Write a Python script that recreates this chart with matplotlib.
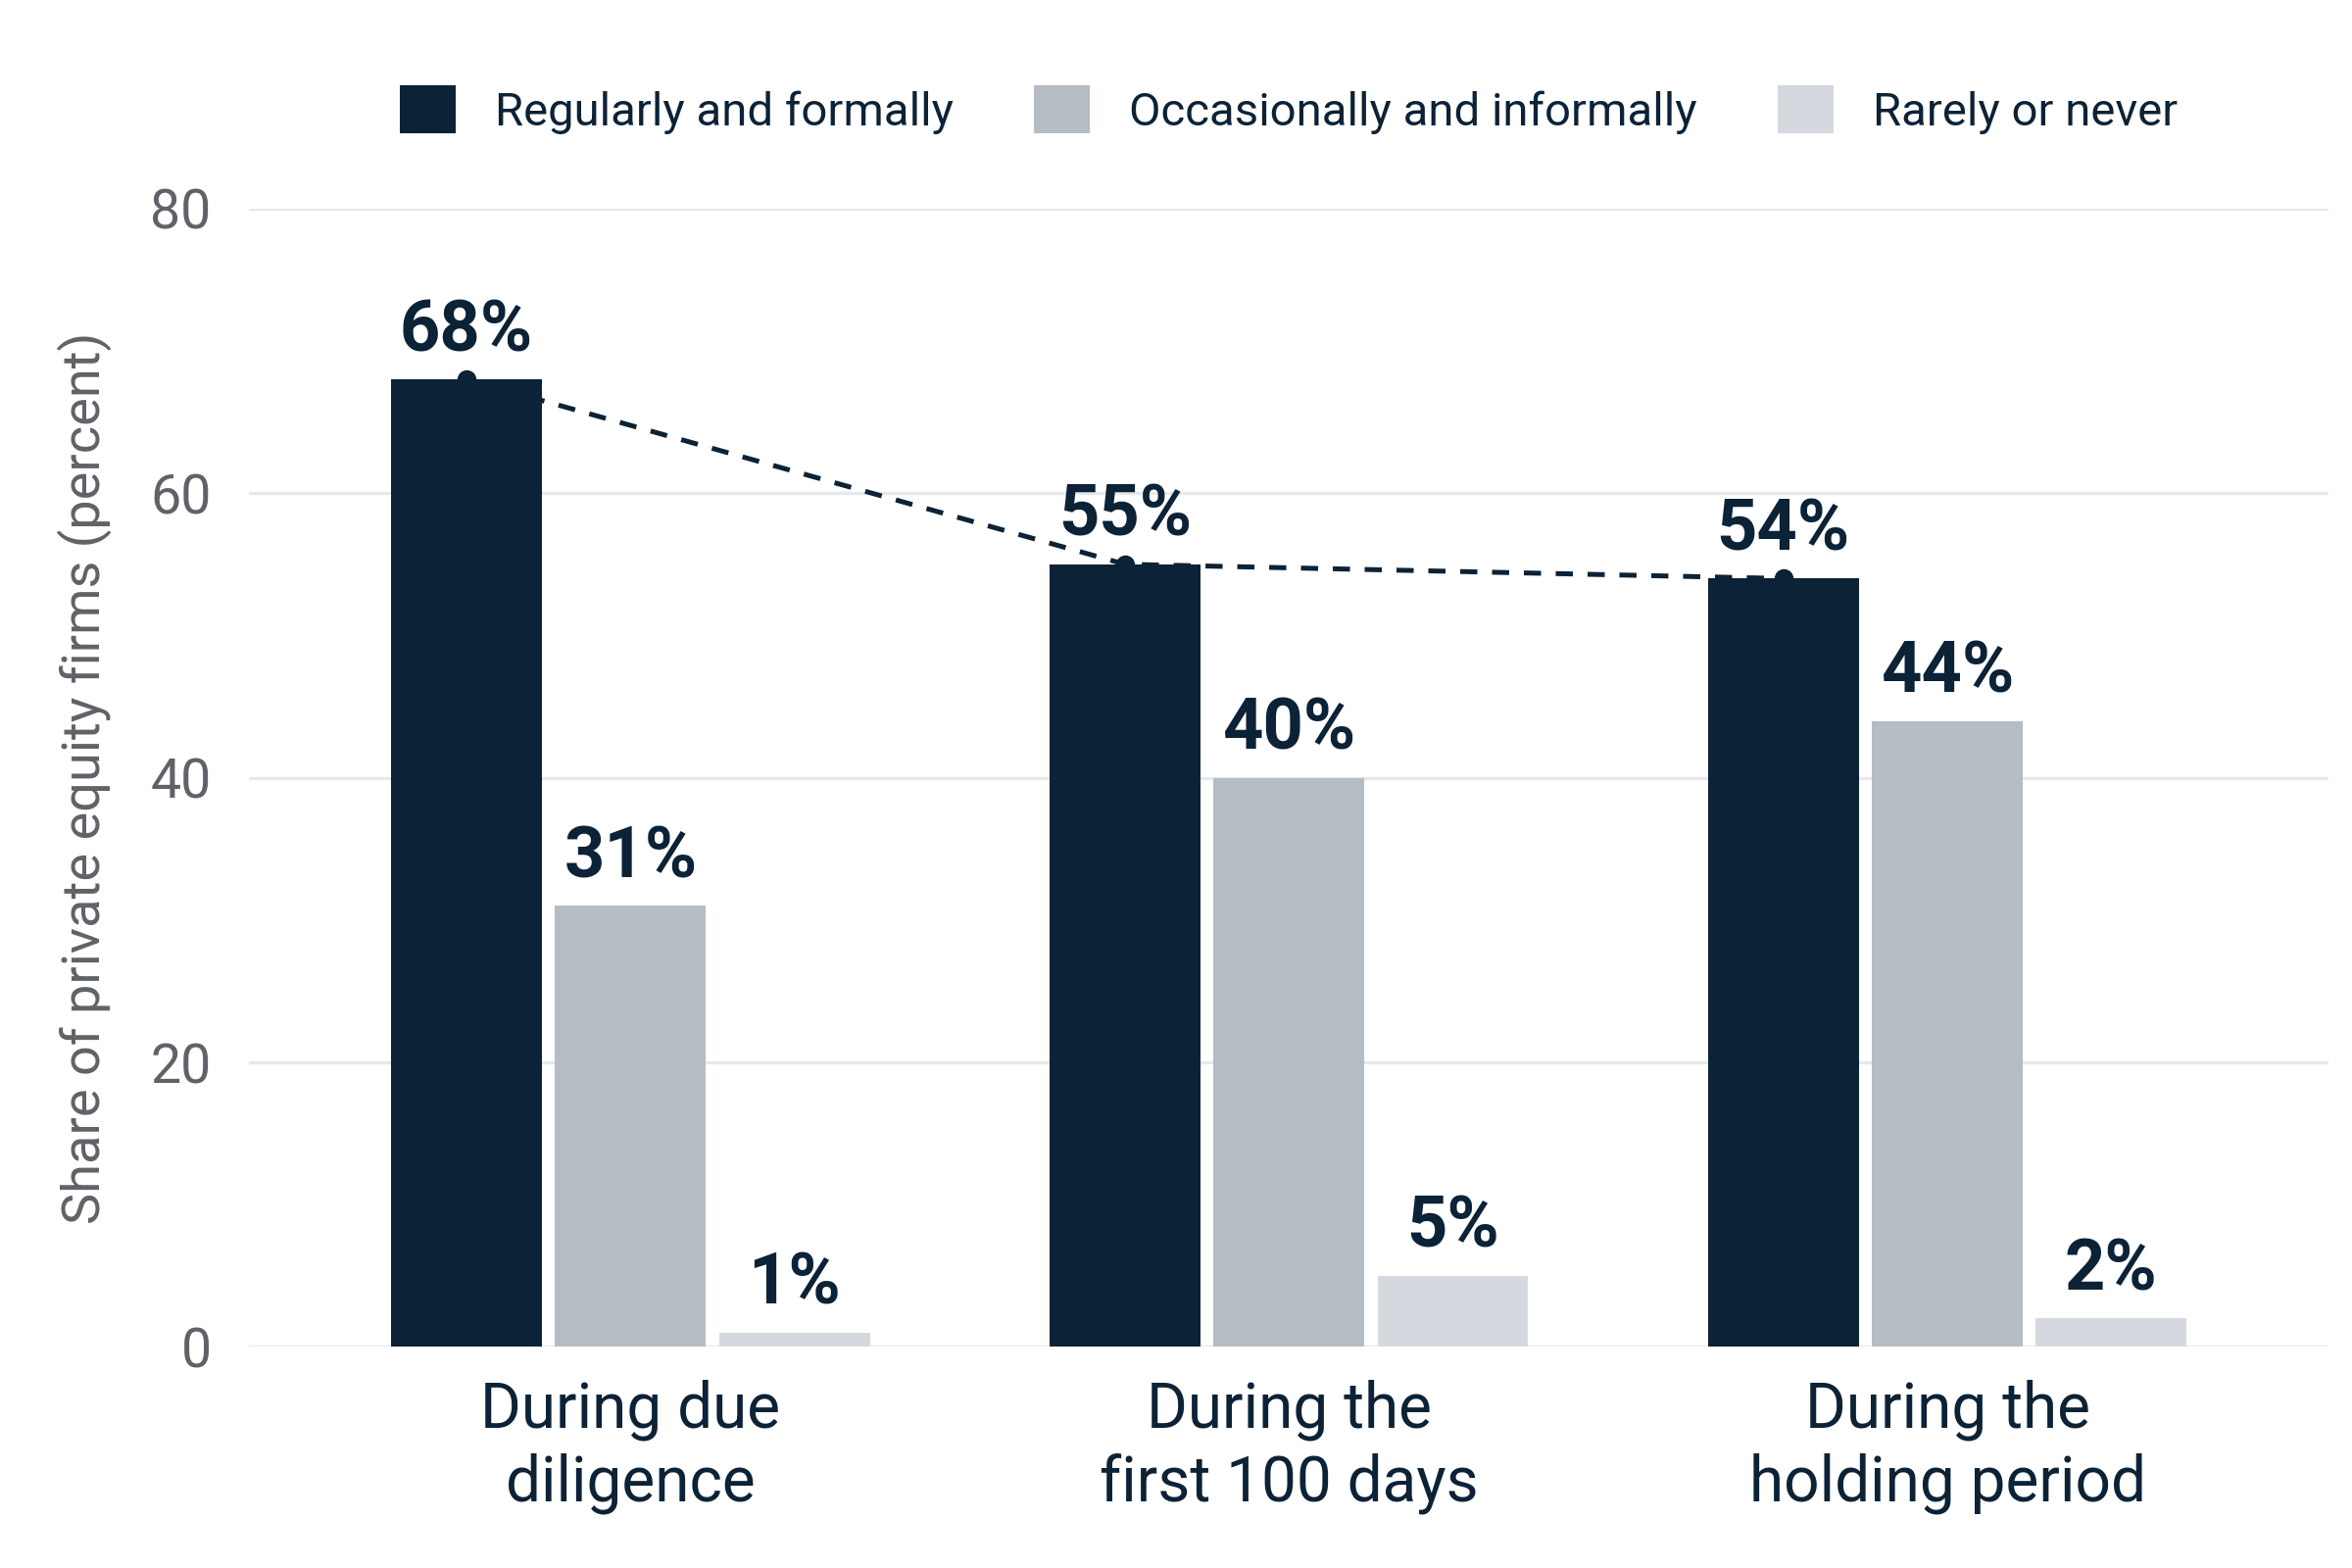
import matplotlib
matplotlib.use("Agg")
import matplotlib.pyplot as plt
import numpy as np
from matplotlib.patches import Patch

categories = ["During due\ndiligence", "During the\nfirst 100 days", "During the\nholding period"]
series_names = ["Regularly and formally", "Occasionally and informally", "Rarely or never"]
regularly = [68, 55, 54]
occasionally = [31, 40, 44]
rarely = [1, 5, 2]
yticks = [0, 20, 40, 60, 80]

colors = ["#0c2236", "#b6bcc3", "#d5d9df"]
text_dark = "#0c2236"
tick_gray = "#5f6368"

plt.rcParams['font.family'] = ['Roboto', 'DejaVu Sans']

fig = plt.figure(figsize=(12, 8), dpi=200)
ax = fig.add_axes([0.106, 0.141, 0.884, 0.726])

x = np.arange(len(categories))
width = 0.229
offset = 0.249
series = [regularly, occasionally, rarely]
for i, (vals, c) in enumerate(zip(series, colors)):
    xs = x + (i - 1) * offset
    ax.bar(xs, vals, width=width, color=c, zorder=3)
    for xi, v in zip(xs, vals):
        ax.annotate(f"{v}%", (xi, v), xytext=(0, 5), textcoords="offset points",
                    ha="center", va="bottom", fontsize=26, fontweight="bold",
                    color=text_dark, zorder=5)

# dashed trend line over the dark bars
xs0 = x - offset
ax.plot(xs0, regularly, linestyle=(0, (3.5, 3)), color=text_dark, lw=1.8, zorder=4)
ax.plot(xs0, regularly, linestyle="none", marker="o", ms=6, color=text_dark, zorder=4)

ax.set_xlim(-0.579, 2.579)
ax.set_ylim(0, 80)
ax.set_yticks(yticks)
ax.set_yticklabels([str(t) for t in yticks])
ax.set_xticks(x)
ax.set_xticklabels(categories, fontsize=23, color=text_dark, linespacing=1.25)
ax.tick_params(axis="y", length=0, labelsize=20, labelcolor=tick_gray, pad=14)
ax.tick_params(axis="x", length=0, pad=12)
ax.grid(axis="y", color="#e6e8eb", lw=1.2, zorder=0)
ax.set_axisbelow(True)
for s in ax.spines.values():
    s.set_visible(False)

ax.set_ylabel("Share of private equity firms (percent)", fontsize=19.5, color=tick_gray,
              labelpad=14)

handles = [Patch(facecolor=c, edgecolor="none") for c in colors]
leg = fig.legend(handles, series_names, loc="center", bbox_to_anchor=(0.548, 0.93),
                 ncol=3, frameon=False, fontsize=17, handlelength=1.2, handleheight=1.2,
                 handletextpad=0.85, columnspacing=1.75)
for t in leg.get_texts():
    t.set_color(text_dark)

fig.savefig("out.png", dpi=200, facecolor="white")
